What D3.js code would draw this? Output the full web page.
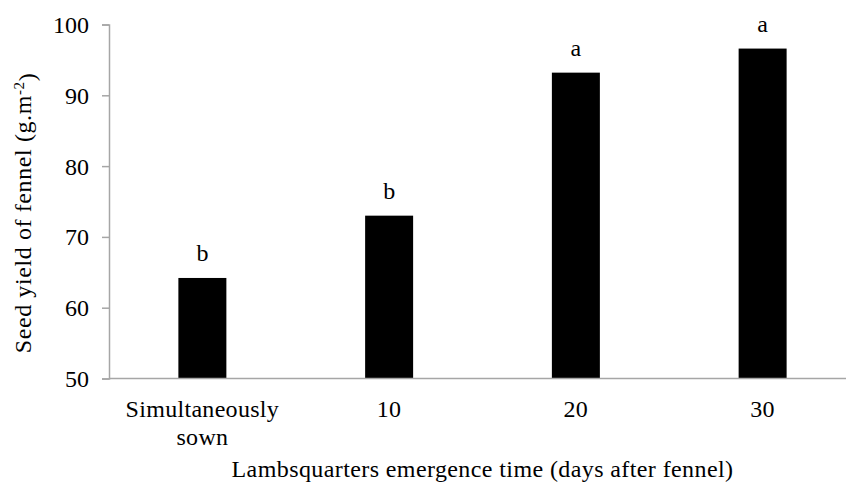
<!DOCTYPE html>
<html>
<head>
<meta charset="utf-8">
<script src="https://cdn.jsdelivr.net/npm/d3@7"></script>
<style>
  body { margin: 0; background: #fff; }
  text { font-family: "Liberation Serif", "Times New Roman", serif; fill: #000; }
</style>
</head>
<body>
<div id="vis"></div>
<script>
// data
const categories = ["Simultaneously sown", "10", "20", "30"];
const yields = [64.2, 73.0, 93.2, 96.6];
const letters = ["b", "b", "a", "a"];
const yTicks = [50, 60, 70, 80, 90, 100];

const svg = d3.select("#vis")
    .append("svg")
    .attr("width", 846)
    .attr("height", 485);

const plotLeft = 109, plotRight = 856, plotTop = 24.5, plotBottom = 378.5;

const x = d3.scaleBand()
    .domain(categories)
    .range([plotLeft, plotRight])
    .padding(0);

const y = d3.scaleLinear()
    .domain([50, 100])
    .range([plotBottom, plotTop]);

const barW = x.bandwidth() * 0.257;

// y axis
const yAxis = svg.append("g")
    .attr("transform", `translate(${plotLeft},0)`)
    .call(d3.axisLeft(y).tickValues(yTicks).tickSize(7).tickPadding(13));
yAxis.select(".domain").attr("stroke", "#a6a6a6").attr("stroke-width", 1.5);
yAxis.selectAll(".tick line").attr("stroke", "#a6a6a6").attr("stroke-width", 1.5);
yAxis.selectAll(".tick text")
    .style("font-family", "Liberation Serif")
    .style("font-size", "24px")
    .attr("dy", "0.33em");

// bars
svg.append("g").selectAll("rect")
    .data(yields)
    .enter()
    .append("rect")
    .attr("x", (d, i) => x(categories[i]) + x.bandwidth() / 2 - barW / 2)
    .attr("y", d => y(d))
    .attr("width", barW)
    .attr("height", d => plotBottom - y(d))
    .attr("fill", "#000");

// significance letters
svg.append("g").selectAll("text")
    .data(yields)
    .enter()
    .append("text")
    .attr("x", (d, i) => x(categories[i]) + x.bandwidth() / 2)
    .attr("y", d => y(d) - 17)
    .attr("text-anchor", "middle")
    .style("font-size", "24px")
    .text((d, i) => letters[i]);

// x axis line
svg.append("line")
    .attr("x1", plotLeft).attr("x2", plotRight)
    .attr("y1", plotBottom).attr("y2", plotBottom)
    .attr("stroke", "#a6a6a6")
    .attr("stroke-width", 1.5);

// x tick labels (wrapped like Excel)
const xLabels = svg.append("g");
categories.forEach(function (c) {
    const lines = c === "Simultaneously sown" ? ["Simultaneously", "sown"] : [c];
    const t = xLabels.append("text")
        .attr("text-anchor", "middle")
        .style("font-size", "24px")
        .style("letter-spacing", "0.3px");
    lines.forEach(function (l, k) {
        t.append("tspan")
            .attr("x", x(c) + x.bandwidth() / 2)
            .attr("y", 417 + k * 28)
            .text(l);
    });
});

// axis titles
svg.append("text")
    .attr("x", (plotLeft + plotRight) / 2)
    .attr("y", 477)
    .attr("text-anchor", "middle")
    .style("font-size", "24px")
    .style("letter-spacing", "0.4px")
    .text("Lambsquarters emergence time (days after fennel)");

const yt = svg.append("text")
    .attr("transform", "translate(31,213) rotate(-90)")
    .attr("text-anchor", "middle")
    .style("font-size", "24px")
    .style("letter-spacing", "0.6px");
yt.append("tspan").text("Seed yield of fennel (g.m");
yt.append("tspan").attr("dy", "-0.45em").style("font-size", "15px").text("-2");
yt.append("tspan").attr("dy", "0.45em").text(")");
</script>
</body>
</html>
